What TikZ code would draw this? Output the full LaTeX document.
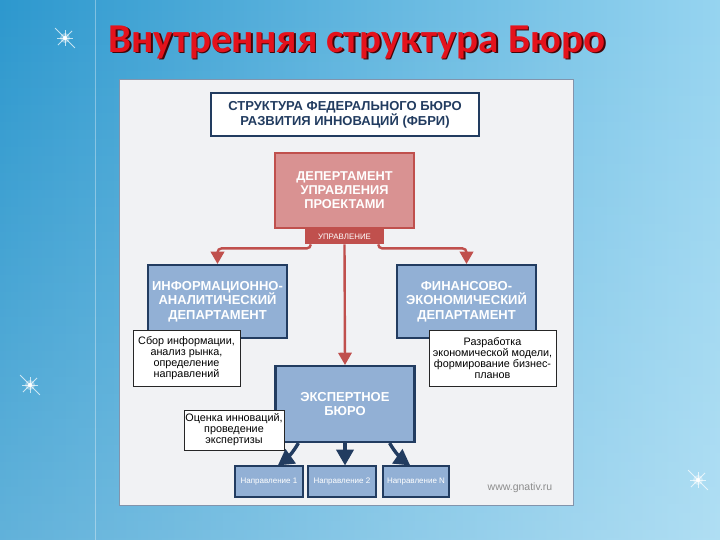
\documentclass[tikz,border=0pt]{standalone}
\usepackage{fontspec}
\setmainfont{Liberation Sans}
\newfontfamily\titlefont{Carlito}
\usepackage{xcolor}
\usepackage{tikz}
\usetikzlibrary{arrows}
\usetikzlibrary{positioning}
\usetikzlibrary{fadings}
\definecolor{bgdark}{RGB}{45,152,206}
\definecolor{bglight}{RGB}{150,212,240}
\definecolor{paper}{RGB}{241,242,244}
\definecolor{frame}{RGB}{130,148,172}
\definecolor{navy}{RGB}{34,60,96}
\definecolor{depblue}{RGB}{146,176,213}
\definecolor{deppink}{RGB}{217,146,146}
\definecolor{depred}{RGB}{192,80,77}
\definecolor{titlered}{RGB}{228,18,28}
\tikzset{
    box/.style = {align=center, inner sep=0pt, text centered},
    red_box/.style = {box, draw=depred, fill=deppink, line width=2pt, text=white, minimum width=139pt, minimum height=75pt, font=\bfseries\fontsize{12.8}{14}\selectfont},
    blue_box/.style = {box, draw=navy, fill=depblue, line width=2.2pt, text=white, minimum width=139pt, minimum height=73pt, font=\bfseries\fontsize{13}{14.5}\selectfont},
    dir_box/.style = {box, draw=navy, fill=depblue, line width=1.4pt, text=white, minimum width=68pt, minimum height=31pt, font=\fontsize{8}{9}\selectfont},
    head_box/.style = {box, draw=navy, fill=white, line width=1.2pt, text=navy, minimum width=268pt, minimum height=43pt, font=\bfseries\fontsize{13}{15}\selectfont},
    tab_box/.style = {box, fill=depred, text=white, minimum width=79pt, minimum height=15pt, font=\fontsize{7.9}{8}\selectfont},
    note/.style = {box, draw=black!85, fill=white, line width=0.8pt, font=\fontsize{10.8}{11}\selectfont},
    red_line/.style = {draw=depred, line width=2.4pt, ->},
    navy_line/.style = {draw=navy, line width=3.4pt, ->},
    spark/.style = {white, line width=0.8pt, opacity=0.7}
}

\begin{document}
\begin{tikzpicture}
    [x=1pt, y=-1pt, >=triangle 60]

    % background
    \useasboundingbox (0,0) rectangle (720,540);
    \shade[left color=bgdark, right color=bglight] (0,0) rectangle (720,540);
    \fill[white, opacity=0.25, path fading=north] (0,0) rectangle (720,540);
    \draw[white, opacity=0.35, line width=1pt] (95,0) -- (95,540);
    \foreach \p in {(65,38), (30,385), (698,480)} {
        \fill[white, opacity=0.35] \p circle (5);
        \fill[white] \p circle (2);
        \foreach \a/\r in {0/8,45/14,90/8,135/10,180/8,225/14,270/8,315/10}
            \draw[spark] \p -- ++(\a:\r);
    }

    % title
    \node[anchor=west, text=black!70!titlered, font=\titlefont\bfseries\fontsize{41}{44}\selectfont]
        at (106.5,43.5) {Внутренняя структура Бюро};
    \node[anchor=west, text=titlered, font=\titlefont\bfseries\fontsize{41}{44}\selectfont]
        (title) at (105,42) {Внутренняя структура Бюро};

    % panel
    \draw[frame, fill=paper, line width=1pt] (119,80) rectangle (573,505);

    % nodes
    \node[head_box] (fbri) at (345,114.5) {СТРУКТУРА ФЕДЕРАЛЬНОГО БЮРО\\РАЗВИТИЯ ИННОВАЦИЙ (ФБРИ)};
    \node[red_box] (pm) at (344.5,190.5) {ДЕПЕРТАМЕНТ\\УПРАВЛЕНИЯ\\ПРОЕКТАМИ};
    \node[tab_box, below=0pt of pm] (upr) {УПРАВЛЕНИЕ};
    \node[blue_box] (infodep) at (217.5,301.5) {ИНФОРМАЦИОННО-\\АНАЛИТИЧЕСКИЙ\\ДЕПАРТАМЕНТ};
    \node[blue_box] (findep) at (466.5,301.5) {ФИНАНСОВО-\\ЭКОНОМИЧЕСКИЙ\\ДЕПАРТАМЕНТ};
    \node[blue_box, minimum height=76pt] (expert) at (345,404) {ЭКСПЕРТНОЕ\\БЮРО};
    \node[dir_box] (dir1) at (269,481.5) {Направление 1};
    \node[dir_box] (dir2) at (342,481.5) {Направление 2};
    \node[dir_box, minimum width=66pt] (dirN) at (416,481.5) {Направление N};

    % red connectors
    \draw[red_line, rounded corners=4pt] ([xshift=6pt]upr.south west) -- ++(0,4) -| (infodep.north);
    \draw[red_line, rounded corners=4pt] ([xshift=-6pt]upr.south east) -- ++(0,4) -| (findep.north);
    \draw[red_line] (upr.south) -- (expert.north);

    % notes
    \node[note, minimum width=107pt, minimum height=56pt] (infonote) at (186.5,358)
        {Сбор информации,\\анализ рынка,\\определение\\направлений};
    \node[note, minimum width=127pt, minimum height=56pt] (finnote) at (492.5,358)
        {Разработка\\экономической модели,\\формирование бизнес-\\планов};
    \node[note, minimum width=100pt, minimum height=40pt] (expnote) at (234,430)
        {Оценка инноваций,\\проведение\\экспертизы};

    % navy connectors
    \draw[navy_line] ([xshift=24pt]expert.south west) to[bend left=12] ([xshift=9pt]dir1.north);
    \draw[navy_line] (expert.south) -- (expert.south |- dir2.north);
    \draw[navy_line] ([xshift=-26pt]expert.south east) to[bend right=12] ([xshift=-6pt]dirN.north);

    \node[text=black!45, font=\fontsize{10.5}{11}\selectfont] (site) at (520,488) {www.gnativ.ru};
\end{tikzpicture}
\end{document}
